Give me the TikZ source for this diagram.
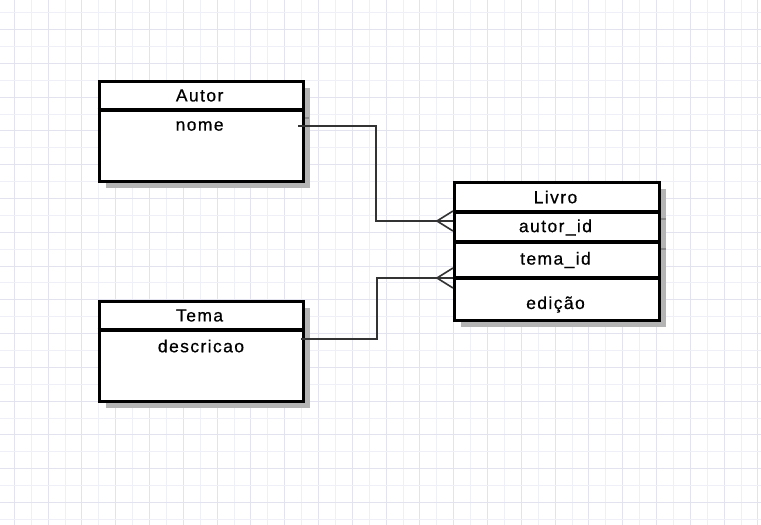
\documentclass[tikz,border=0pt]{standalone}
\usepackage{fontspec}
\setmainfont{Liberation Sans}[LetterSpace=8,FakeBold=0.6]
\begin{document}
\begin{tikzpicture}[x=1pt,y=-1pt,
  gridminor/.style={draw=gridA,line width=0.8pt},
  gridmajor/.style={draw=gridB,line width=1pt},
  entity/.style={draw=black,line width=3.3pt,fill=white,inner sep=0pt},
  shadowbox/.style={fill=shadowgray,draw=none},
  sepline/.style={draw=black,line width=3.3pt},
  lbl/.style={font=\fontsize{17.5}{19}\selectfont,inner sep=0pt,anchor=center},
  conn/.style={draw=connGray,line width=1.6pt},
  tick/.style={draw=tickGray,line width=1.5pt}]
\definecolor{gridA}{HTML}{EFEFF7}
\definecolor{gridB}{HTML}{E3E3F0}
\definecolor{shadowgray}{HTML}{B4B4B4}
\definecolor{connGray}{HTML}{333333}
\definecolor{tickGray}{HTML}{8A8A8A}
\useasboundingbox[fill=white] (0,0) rectangle (761,525);
% grid
\foreach \k in {0,...,44}{
  \pgfmathsetmacro{\xx}{14.2+16.9*\k}
  \pgfmathtruncatemacro{\ev}{mod(\k,2)}
  \ifnum\ev=0 \draw[gridmajor] (\xx,0) -- (\xx,525); \else \draw[gridminor] (\xx,0) -- (\xx,525); \fi
}
\foreach \k in {0,...,30}{
  \pgfmathsetmacro{\yy}{12.8+16.88*\k}
  \pgfmathtruncatemacro{\ev}{mod(\k,2)}
  \ifnum\ev=1 \draw[gridmajor] (0,\yy) -- (761,\yy); \else \draw[gridminor] (0,\yy) -- (761,\yy); \fi
}
% shadows
\fill[shadowbox] (105.5,88) rectangle (309.7,188);
\fill[shadowbox] (105.5,308) rectangle (309.7,408);
\fill[shadowbox] (461,189) rectangle (666,327);
\draw[tick] (658,219) -- (666,219);
\draw[tick] (658,249) -- (666,249);
\draw[tick] (301,118) -- (309,118);
% Autor
\node[entity,minimum width=204pt,minimum height=100pt,anchor=north west] (autor) at (97.5,80) {};
\draw[sepline] (autor.west |- 0,110) coordinate (autsepL) -- (autor.east |- 0,110) coordinate (autsepR);
\node[lbl] (autorT) at (199.6,95.5) {Autor};
\node[lbl] (nome) at (199.6,126) {nome};
% Tema
\node[entity,minimum width=204pt,minimum height=100pt,anchor=north west] (tema) at (97.5,300) {};
\draw[sepline] (tema.west |- 0,330) coordinate (temsepL) -- (tema.east |- 0,330) coordinate (temsepR);
\node[lbl] (temaT) at (199.6,315.5) {Tema};
\node[lbl] (descricao) at (201,346) {descricao};
% Livro
\node[entity,minimum width=205pt,minimum height=138pt,anchor=north west] (livro) at (453,181) {};
\draw[sepline] (livro.west |- 0,212) -- (livro.east |- 0,212);
\draw[sepline] (livro.west |- 0,242) -- (livro.east |- 0,242);
\draw[sepline] (livro.west |- 0,278) -- (livro.east |- 0,278);
\node[lbl] (livroT) at (555.5,197) {Livro};
\node[lbl] (autorid) at (555.5,227.5) {autor\_id};
\node[lbl] (temaid) at (555.5,260) {tema\_id};
\node[lbl] (edicao) at (555.5,304.5) {edição};
% connectors
\coordinate (r1) at (298,126);
\coordinate (j1) at (376,221);
\coordinate (e1) at (453,221);
\coordinate (r2) at (301,339);
\coordinate (j2) at (377,278);
\coordinate (e2) at (453,278);
\draw[conn] (r1) -| (j1) -- (e1);
\draw[conn] (r2) -| (j2) -- (e2);
% crow's feet
\draw[conn] ([xshift=-16pt]e1) -- ([yshift=10pt]e1);
\draw[conn] ([xshift=-16pt]e1) -- ([yshift=-10pt]e1);
\draw[conn] ([xshift=-16pt]e2) -- ([yshift=10pt]e2);
\draw[conn] ([xshift=-16pt]e2) -- ([yshift=-10pt]e2);
\end{tikzpicture}
\end{document}
